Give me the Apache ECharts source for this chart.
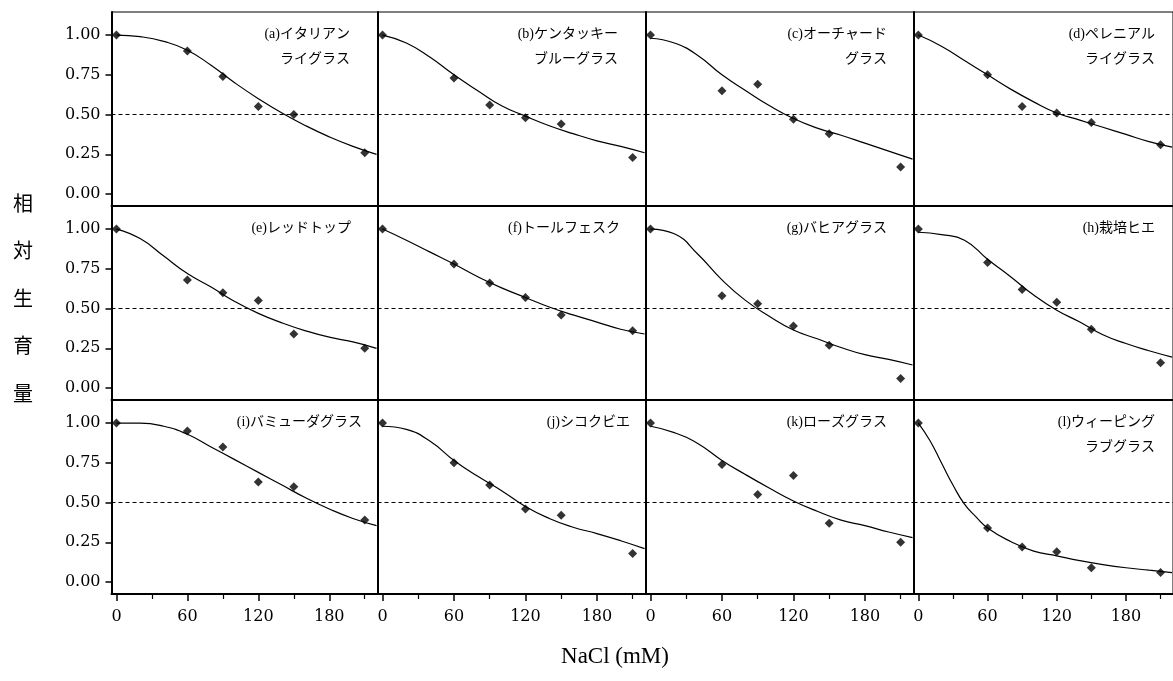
<!DOCTYPE html>
<html>
<head>
<meta charset="utf-8">
<script src="https://cdn.jsdelivr.net/npm/echarts@6/dist/echarts.min.js"></script>
<style>
  html, body { margin: 0; padding: 0; background: #fff; }
  #chart { width: 1173px; height: 681px; }
</style>
</head>
<body>
<div id="chart"></div>
<script>
// NaCl doses (mM) where growth was measured
var doses = [0, 60, 90, 120, 150, 210];
// x positions used to trace the fitted curves off the picture
var curveDoses = [0, 20, 40, 60, 80, 100, 120, 140, 160, 180, 200, 220];
var curveDosesL = [0, 10, 20, 30, 40, 50, 60, 80, 100, 120, 140, 160, 180, 200, 220];

var panelNames = [
  "(a)イタリアン\nライグラス", "(b)ケンタッキー\nブルーグラス", "(c)オーチャード\nグラス", "(d)ペレニアル\nライグラス",
  "(e)レッドトップ", "(f)トールフェスク", "(g)バヒアグラス", "(h)栽培ヒエ",
  "(i)バミューダグラス", "(j)シコクビエ", "(k)ローズグラス", "(l)ウィーピング\nラブグラス"
];

// measured relative growth
var ptsA = [1.00, 0.90, 0.74, 0.55, 0.50, 0.26];
var ptsB = [1.00, 0.73, 0.56, 0.48, 0.44, 0.23];
var ptsC = [1.00, 0.65, 0.69, 0.47, 0.38, 0.17];
var ptsD = [1.00, 0.75, 0.55, 0.51, 0.45, 0.31];
var ptsE = [1.00, 0.68, 0.60, 0.55, 0.34, 0.25];
var ptsF = [1.00, 0.78, 0.66, 0.57, 0.46, 0.36];
var ptsG = [1.00, 0.58, 0.53, 0.39, 0.27, 0.06];
var ptsH = [1.00, 0.79, 0.62, 0.54, 0.37, 0.16];
var ptsI = [1.00, 0.95, 0.85, 0.63, 0.60, 0.39];
var ptsJ = [1.00, 0.75, 0.61, 0.46, 0.42, 0.18];
var ptsK = [1.00, 0.74, 0.55, 0.67, 0.37, 0.25];
var ptsL = [1.00, 0.34, 0.22, 0.19, 0.09, 0.06];

// fitted curves, read at curveDoses (curveDosesL for panel l)
var fitA = [1.00, 0.99, 0.96, 0.905, 0.81, 0.70, 0.60, 0.51, 0.43, 0.36, 0.30, 0.25];
var fitB = [1.00, 0.95, 0.86, 0.75, 0.65, 0.555, 0.49, 0.43, 0.38, 0.335, 0.30, 0.26];
var fitC = [0.98, 0.95, 0.87, 0.75, 0.65, 0.555, 0.475, 0.415, 0.37, 0.32, 0.27, 0.22];
var fitD = [1.00, 0.93, 0.84, 0.75, 0.66, 0.58, 0.51, 0.465, 0.42, 0.375, 0.33, 0.295];
var fitE = [1.00, 0.94, 0.83, 0.72, 0.635, 0.545, 0.47, 0.41, 0.36, 0.32, 0.29, 0.25];
var fitF = [1.00, 0.93, 0.855, 0.78, 0.70, 0.63, 0.57, 0.51, 0.46, 0.415, 0.37, 0.34];
var fitG = [1.00, 0.97, 0.84, 0.68, 0.55, 0.45, 0.365, 0.31, 0.255, 0.21, 0.18, 0.145];
var fitH = [0.98, 0.965, 0.93, 0.81, 0.70, 0.585, 0.49, 0.415, 0.335, 0.28, 0.235, 0.195];
var fitI = [1.00, 1.00, 0.98, 0.93, 0.85, 0.77, 0.69, 0.61, 0.53, 0.46, 0.40, 0.355];
var fitJ = [0.98, 0.96, 0.885, 0.765, 0.665, 0.575, 0.475, 0.40, 0.345, 0.305, 0.26, 0.21];
var fitK = [0.98, 0.94, 0.87, 0.765, 0.675, 0.59, 0.51, 0.445, 0.39, 0.355, 0.315, 0.28];
var fitL = [1.00, 0.89, 0.75, 0.61, 0.49, 0.41, 0.34, 0.255, 0.195, 0.165, 0.135, 0.11, 0.09, 0.075, 0.06];

var xTickLabels = [0, 60, 120, 180];
var xMinorTicks = [30, 90, 150, 210];
var yTicks = [0, 0.25, 0.5, 0.75, 1.0];
var refLevel = 0.5;

var allPts = [ptsA, ptsB, ptsC, ptsD, ptsE, ptsF, ptsG, ptsH, ptsI, ptsJ, ptsK, ptsL];
var allFits = [fitA, fitB, fitC, fitD, fitE, fitF, fitG, fitH, fitI, fitJ, fitK, fitL];

// layout
var colLeft = [111.5, 377.5, 645.5, 913.5];
var colWidth = [266, 268, 268, 268];
var rowTop = [12, 206, 400];
var rowHeight = 194;
var titleRightX = [350, 618, 887, 1155, 351, 620, 887, 1155, 362, 630, 887, 1155];

function zip(xs, ys) {
  var out = [];
  for (var i = 0; i < ys.length; i++) out.push([xs[i], ys[i]]);
  return out;
}

var grids = [], xAxes = [], yAxes = [], series = [], graphics = [];

for (var p = 0; p < 12; p++) {
  var r = Math.floor(p / 4), c = p % 4;
  grids.push({
    show: true, borderColor: "#000", borderWidth: 1,
    left: colLeft[c], top: rowTop[r], width: colWidth[c], height: rowHeight
  });
  xAxes.push({
    gridIndex: p, type: "value", min: -4.2, max: 220.8,
    axisLine: { show: true, onZero: false, lineStyle: { color: "#000", width: 2 } },
    axisTick: { show: r === 2, customValues: xTickLabels, length: 7, lineStyle: { color: "#000", width: 1.5 } },
    axisLabel: {
      show: r === 2, customValues: xTickLabels, margin: 15,
      fontSize: 16, fontFamily: "DejaVu Serif", color: "#000"
    },
    splitLine: { show: false }
  });
  yAxes.push({
    gridIndex: p, type: "value", min: -0.075, max: 1.145,
    axisLine: { show: true, onZero: false, lineStyle: { color: "#000", width: 2 } },
    axisTick: { show: c === 0, customValues: yTicks, length: 6, lineStyle: { color: "#000", width: 1.5 } },
    axisLabel: {
      show: c === 0, customValues: yTicks, margin: 11,
      fontSize: 16, fontFamily: "DejaVu Serif", color: "#000",
      formatter: function (v) { return v.toFixed(2); }
    },
    splitLine: { show: false }
  });

  series.push({
    type: "line", xAxisIndex: p, yAxisIndex: p,
    data: zip(p === 11 ? curveDosesL : curveDoses, allFits[p]),
    smooth: 0.5, symbol: "none", silent: true,
    lineStyle: { color: "#000", width: 1.2 },
    markLine: {
      silent: true, symbol: "none", label: { show: false },
      lineStyle: { color: "#000", type: [4, 3], width: 1 },
      data: [{ yAxis: refLevel }]
    }
  });
  series.push({
    type: "scatter", xAxisIndex: p, yAxisIndex: p,
    data: zip(doses, allPts[p]),
    symbol: "diamond", symbolSize: 9, itemStyle: { color: "#000" }
  });

  graphics.push({
    type: "text", x: titleRightX[p], y: rowTop[r] + 9.5, silent: true,
    style: {
      text: panelNames[p], align: "right", verticalAlign: "top", lineHeight: 25,
      fontSize: 14, fontFamily: "'Liberation Serif', 'Noto Sans CJK JP'", fill: "#000"
    }
  });
}

// short minor ticks on the bottom row
for (var c2 = 0; c2 < 4; c2++) {
  xAxes.push({
    gridIndex: 8 + c2, type: "value", min: -4.2, max: 220.8, position: "bottom",
    axisLine: { show: false, onZero: false },
    axisTick: { show: true, customValues: xMinorTicks, length: 5, lineStyle: { color: "#000", width: 1.2 } },
    axisLabel: { show: false },
    splitLine: { show: false }
  });
}

graphics.push({
  type: "text", x: 23, y: 298, silent: true,
  style: {
    text: "相\n対\n生\n育\n量", align: "center", verticalAlign: "middle", lineHeight: 47.5,
    fontSize: 20, fontFamily: "'Noto Sans CJK JP'", fill: "#000"
  }
});
graphics.push({
  type: "text", x: 615, y: 657, silent: true,
  style: {
    text: "NaCl (mM)", align: "center", verticalAlign: "middle",
    fontSize: 23, fontFamily: "'Liberation Serif'", fill: "#000"
  }
});

var myChart = echarts.init(document.getElementById("chart"));
myChart.setOption({
  animation: false,
  backgroundColor: "#fff",
  grid: grids,
  xAxis: xAxes,
  yAxis: yAxes,
  series: series,
  graphic: graphics
});
</script>
</body>
</html>
